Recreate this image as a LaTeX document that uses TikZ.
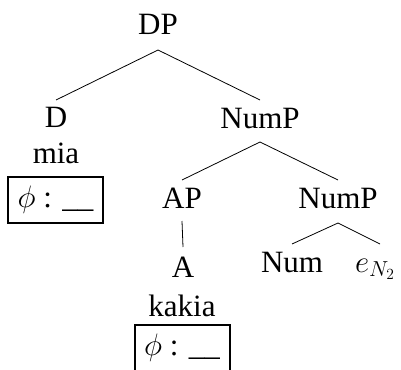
\RequirePackage{fix-cm}
\documentclass[tikz,border=0pt]{standalone}
\usepackage[no-math]{fontspec}
\setmainfont{Liberation Serif}
\usetikzlibrary{calc}
\begin{document}
\begin{tikzpicture}[x=1pt,y=-1pt,
  lab/.style={anchor=base,inner sep=0pt,font=\fontsize{31}{37}\selectfont},
  feat/.style={draw,line width=2pt,minimum width=95pt,minimum height=46pt,inner sep=0pt,font=\fontsize{31}{37}\selectfont},
  edge/.style={line width=0.8pt}]
\useasboundingbox (0,0) rectangle (401,369);
\clip (0,0) rectangle (401,369);
\node[lab] (dp) at (158,35) {DP};
\node[lab] (d) at (56,127) {D};
\node[lab] (mia) at (56,163) {mia};
\node[feat] (f1) at (55.5,200) {$\phi$ : \_\_};
\node[lab] (nump1) at (260,128) {NumP};
\node[lab] (ap) at (182,208) {AP};
\node[lab] (a) at (183,277) {A};
\node[lab] (kakia) at (182,316) {kakia};
\node[feat] (f2) at (182,348) {$\phi$ : \_\_};
\node[lab] (nump2) at (338,208) {NumP};
\node[lab] (num) at (292,272) {Num};
\node[lab] (e) at (375,272) {$e_{N_2}$};
\draw[edge] ([yshift=-15pt]dp.base) -- ([yshift=27pt]d.base);
\draw[edge] ([yshift=-15pt]dp.base) -- ([yshift=28pt]nump1.base);
\draw[edge] ([yshift=-14pt]nump1.base) -- ([yshift=28pt]ap.base);
\draw[edge] ([yshift=-14pt]nump1.base) -- ([yshift=28pt]nump2.base);
\draw[edge] ([yshift=-13pt]ap.base) -- ([yshift=30pt]a.base);
\draw[edge] ([yshift=-15pt]nump2.base) -- ([yshift=28pt]num.base);
\draw[edge] ([yshift=-15pt]nump2.base) -- ([xshift=5pt,yshift=28pt]e.base);
\end{tikzpicture}
\end{document}
